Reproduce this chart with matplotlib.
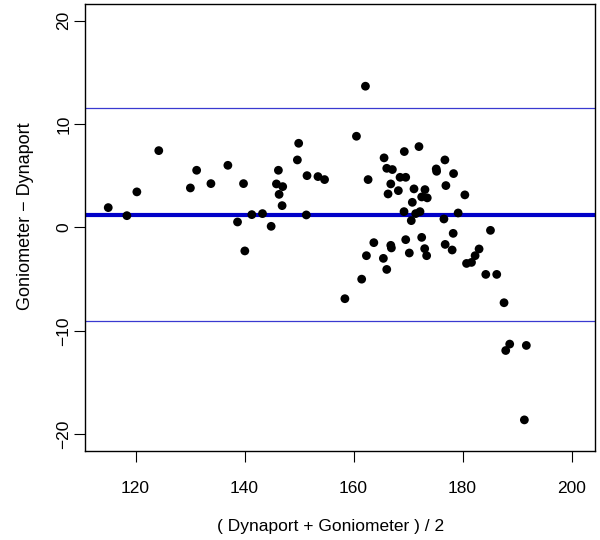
import matplotlib
matplotlib.use("Agg")
import matplotlib.pyplot as plt

plt.rcParams['font.family'] = ['Liberation Sans', 'DejaVu Sans']

# Bland-Altman data: mean of the two methods vs. difference
avg = [114.99, 118.41, 120.24, 124.26, 130.06, 131.21, 133.83, 136.94, 139.81, 138.71,
       140.05, 141.33, 143.29, 144.88, 146.21, 145.85, 147.00, 146.34, 146.89, 149.93,
       149.69, 151.46, 151.33, 153.47, 154.68, 158.41, 162.18, 160.53, 162.67, 165.60,
       166.09, 167.12, 169.31, 172.00, 166.83, 166.33, 168.22, 168.53, 169.57, 171.09,
       173.10, 172.50, 173.52, 170.78, 169.26, 171.40, 172.19, 170.59, 175.17, 175.24,
       176.76, 178.35, 176.94, 180.42, 179.19, 176.58, 178.28, 185.12, 163.72, 166.83,
       166.94, 169.57, 172.50, 162.36, 165.47, 170.23, 173.05, 173.41, 176.81, 178.09,
       183.03, 182.30, 180.73, 181.64, 166.09, 184.26, 186.27, 161.49, 187.61, 188.65,
       187.92, 191.70, 191.34]
diff = [1.91, 1.13, 3.43, 7.42, 3.81, 5.52, 4.23, 6.00, 4.23, 0.52,
        -2.28, 1.23, 1.33, 0.10, 5.52, 4.20, 3.94, 3.19, 2.10, 8.13,
        6.52, 5.00, 1.20, 4.91, 4.62, -6.90, 13.65, 8.81, 4.62, 6.72,
        5.71, 5.59, 7.33, 7.81, 4.20, 3.23, 3.55, 4.84, 4.84, 3.72,
        3.65, 2.94, 2.85, 2.42, 1.52, 1.33, 1.52, 0.65, 5.65, 5.42,
        6.52, 5.20, 4.04, 3.14, 1.39, 0.81, -0.58, -0.29, -1.48, -1.74,
        -1.99, -1.19, -0.97, -2.74, -3.00, -2.48, -2.06, -2.74, -1.65, -2.19,
        -2.09, -2.74, -3.49, -3.39, -4.07, -4.55, -4.55, -5.01, -7.29, -11.29,
        -11.91, -11.42, -18.62]

mean_diff = 1.23
upper_loa = 11.52
lower_loa = -9.06

xticks = [120, 140, 160, 180, 200]
yticks = [-20, -10, 0, 10, 20]

fig = plt.figure(figsize=(6, 5.4), dpi=100)
ax = fig.add_axes([84.7/600, 1 - 450.7/540, (595 - 84.7)/600, (450.7 - 4)/540])

ax.axhline(upper_loa, color='#3a3ad0', lw=0.9, zorder=1)
ax.axhline(lower_loa, color='#3a3ad0', lw=0.9, zorder=1)
ax.axhline(mean_diff, color='#0000c8', lw=3.0, zorder=2)
ax.scatter(avg, diff, s=40, color='black', edgecolors='none', zorder=3)

ax.set_xlim(110.67, 204.3)
ax.set_ylim(-21.6, 21.6)
ax.set_xticks(xticks)
ax.set_yticks(yticks)
ax.tick_params(axis='both', direction='out', length=8, width=0.8, labelsize=12.5)
ax.tick_params(axis='x', pad=14)
ax.tick_params(axis='y', pad=1.5)
for lab in ax.get_yticklabels():
    lab.set_rotation(90)
    lab.set_va('center')

for sp in ax.spines.values():
    sp.set_linewidth(1.0)

ax.set_xlabel('( Dynaport + Goniometer ) / 2', fontsize=12.5)
ax.set_ylabel('Goniometer \u2212 Dynaport', fontsize=13)
ax.xaxis.set_label_coords(0.482, -0.153)
ax.yaxis.set_label_coords(-0.099, 0.525)

fig.savefig('out.png', dpi=100)
